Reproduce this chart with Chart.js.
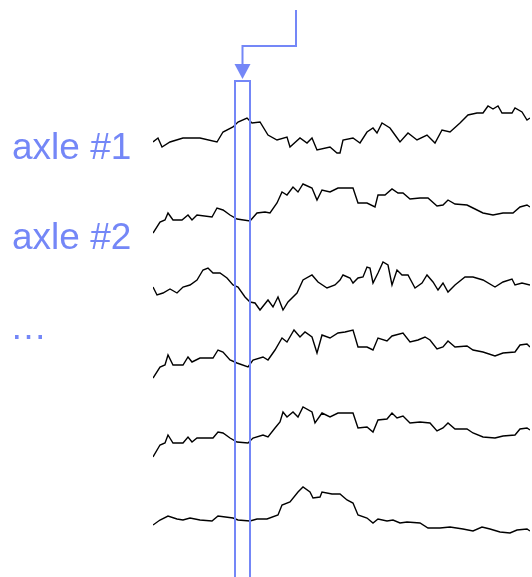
<!DOCTYPE html>
<html>
<head>
<meta charset="utf-8">
<script src="https://cdn.jsdelivr.net/npm/chart.js@4.4.0/dist/chart.umd.min.js"></script>
<style>
  html, body { margin: 0; padding: 0; background: #fff; }
  #wrap { width: 532px; height: 577px; position: relative; }
</style>
</head>
<body>
<div id="wrap"><canvas id="axles"></canvas></div>
<script>
// --- data: sample position (t) and signal level per axle trace ---
const t1 = [0,5,9,17,30,47,64,70,80,85,94,99,107,115,124,134,137,147,154,159,164,177,184,187,190,200,207,214,220,224,229,237,242,247,255,264,274,282,289,297,307,315,324,330,335,340,345,349,359,362,369,374,377];
const s1 = [-2,2,-7,-2,2,2,-2,8,13,18,22,17,18,5,0,3,-7,2,-3,2,-10,-7,-13,-13,0,2,-3,8,12,7,17,12,5,-2,7,0,5,-3,10,8,17,25,27,27,34,31,34,27,27,32,28,20,22];

const t2 = [0,7,12,15,20,29,35,39,44,59,64,70,77,84,97,104,112,117,124,129,134,140,145,150,159,164,169,177,185,192,200,205,214,222,225,232,239,245,250,257,267,275,284,290,295,302,314,320,330,340,350,360,367,374,377];
const s2 = [-23,-12,-10,-3,-10,-10,-5,-10,-5,-7,2,0,-5,-9,-11,-3,-2,-3,7,18,15,23,18,26,22,10,20,18,22,22,22,7,7,3,15,15,21,17,17,11,12,12,4,5,10,6,5,2,-3,-5,-3,-3,3,5,3];

const t3 = [0,4,10,17,24,30,37,44,50,55,60,67,74,80,85,92,97,102,107,115,120,125,130,135,144,150,159,165,174,182,187,190,197,200,205,210,214,217,220,225,230,235,239,244,249,255,262,269,274,280,285,290,295,302,312,320,330,342,350,359,362,369,377];
const s3 = [-2,-10,-8,-4,-8,-2,0,5,15,17,12,12,7,0,-2,-12,-17,-18,-25,-15,-22,-12,-25,-17,-8,5,10,3,-3,0,5,10,7,2,7,8,18,17,2,12,23,20,0,15,10,10,-3,2,10,3,-5,2,-7,0,8,8,5,-2,3,6,0,2,0];

const t4 = [0,7,12,15,20,30,35,39,47,60,65,70,77,84,95,100,110,115,122,129,134,141,147,152,159,164,169,177,185,192,200,205,214,220,225,234,239,250,257,265,272,277,284,290,295,302,314,320,330,342,350,362,367,374,377];
const s4 = [-28,-17,-15,-5,-15,-15,-7,-12,-8,-8,0,-2,-10,-13,-17,-10,-7,-10,0,12,8,20,13,18,13,-3,15,12,17,18,20,3,3,0,12,9,14,17,8,10,13,10,1,3,9,3,4,0,-2,-6,-3,-2,5,6,3];

const t5 = [0,7,12,15,20,30,35,39,44,60,65,70,77,84,95,100,110,115,122,127,130,134,140,145,150,159,162,169,177,185,192,200,205,214,220,225,234,239,244,250,257,267,277,284,290,295,302,314,320,330,342,350,362,367,374,377];
const s5 = [-27,-15,-13,-5,-13,-13,-7,-12,-8,-8,-2,-3,-8,-12,-13,-8,-5,-7,2,8,18,13,18,13,23,18,7,17,13,17,17,17,2,3,-2,10,11,17,12,14,7,8,7,-1,2,7,1,1,-3,-7,-8,-6,-5,1,2,0];

const t6 = [0,7,15,24,30,37,47,59,65,80,85,97,104,114,125,129,137,145,150,157,160,167,169,179,187,194,200,205,214,220,225,234,240,247,254,267,275,287,297,310,320,329,337,347,357,364,374,377];
const s6 = [-5,0,4,1,0,2,0,-1,4,2,0,-1,1,1,5,15,18,28,33,28,22,23,28,26,26,20,17,5,2,-3,1,-1,0,-3,-2,-3,-8,-8,-7,-9,-11,-7,-9,-12,-13,-10,-9,-11];

const sampleT = [t1, t2, t3, t4, t5, t6];
const signals = [s1, s2, s3, s4, s5, s6];
const laneOffsets = [437, 367, 292, 227, 147, 57];   // vertical lane of each axle
const axleLabels = ['axle #1', 'axle #2', '…'];
const windowRange = [82, 97];                          // highlighted sample window

const datasets = signals.map((s, i) => ({
    label: 'axle ' + (i + 1),
    data: s.map((v, j) => ({ x: sampleT[i][j], y: laneOffsets[i] + v })),
    borderColor: '#000',
    borderWidth: 1.4,
    pointRadius: 0,
    tension: 0,
    fill: false
}));

const blue = '#7487f7';

// labels, window box and arrow drawn on top
const overlay = {
    id: 'overlay',
    afterDatasetsDraw(chart) {
        const ctx = chart.ctx;
        const xs = chart.scales.x;
        const xa = xs.getPixelForValue(windowRange[0]);
        const xb = xs.getPixelForValue(windowRange[1]);
        const xm = (xa + xb) / 2;
        ctx.save();
        ctx.fillStyle = blue;
        ctx.font = '37px "Liberation Sans", Arial, sans-serif';
        ctx.textBaseline = 'middle';
        ctx.fillText(axleLabels[0], 12, 149);
        ctx.fillText(axleLabels[1], 12, 239);
        ctx.fillText(axleLabels[2], 10, 329);

        ctx.strokeStyle = blue;
        ctx.lineWidth = 2;
        ctx.strokeRect(xa, 81, xb - xa, 520);

        ctx.beginPath();
        ctx.moveTo(296, 10);
        ctx.lineTo(296, 46);
        ctx.lineTo(xm, 46);
        ctx.lineTo(xm, 66);
        ctx.stroke();
        ctx.beginPath();
        ctx.moveTo(xm - 8, 64);
        ctx.lineTo(xm + 8, 64);
        ctx.lineTo(xm, 79);
        ctx.closePath();
        ctx.fill();
        ctx.restore();
    }
};

new Chart(document.getElementById('axles'), {
    type: 'line',
    data: { datasets: datasets },
    options: {
        responsive: true,
        maintainAspectRatio: false,
        animation: false,
        layout: { padding: { left: 153, right: 2, top: 0, bottom: 0 } },
        plugins: {
            legend: { display: false },
            tooltip: { enabled: false }
        },
        scales: {
            x: { type: 'linear', min: 0, max: 377, display: false },
            y: { type: 'linear', min: 0, max: 577, display: false }
        }
    },
    plugins: [overlay]
});
</script>
</body>
</html>
